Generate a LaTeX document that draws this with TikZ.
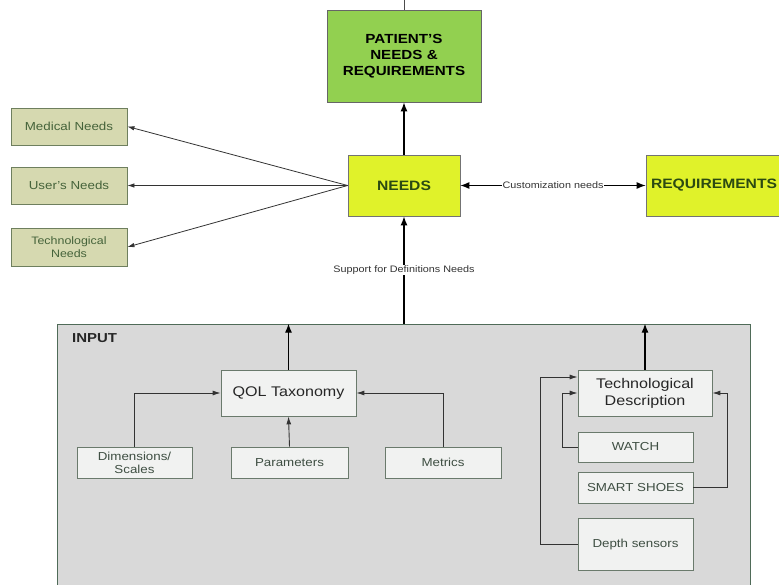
\documentclass[tikz,border=0pt]{standalone}
\usepackage{fontspec}
\setmainfont{Liberation Sans}[FakeStretch=1.15]
\usetikzlibrary{arrows.meta,calc}
\definecolor{patgreen}{HTML}{92D050}
\definecolor{needyel}{HTML}{E0F22A}
\definecolor{khaki}{HTML}{D6D9B0}
\definecolor{khakiline}{HTML}{6E7F5E}
\definecolor{inputfill}{HTML}{D9D9D9}
\definecolor{inputline}{HTML}{4F6B58}
\definecolor{smallfill}{HTML}{F1F2F1}
\definecolor{smallline}{HTML}{6A7A6C}
\definecolor{darkgreen}{HTML}{2B4A12}
\definecolor{boxtext}{HTML}{3E4E42}
\definecolor{lefttext}{HTML}{45633A}
\tikzset{
  box/.style={draw, rectangle, inner sep=0pt, align=center, line width=0.8pt},
  patbox/.style={box, fill=patgreen, draw=black!60, font=\bfseries\fontsize{13.2}{16}\selectfont},
  needbox/.style={box, fill=needyel, draw=black!55, text=darkgreen, font=\bfseries\fontsize{13.6}{15}\selectfont},
  leftbox/.style={box, fill=khaki, draw=khakiline, text=lefttext, font=\fontsize{11.6}{12.5}\selectfont},
  inbox/.style={box, fill=smallfill, draw=smallline, text=boxtext, font=\fontsize{11.6}{13}\selectfont},
  bigin/.style={box, fill=smallfill, draw=smallline, text=black!85, font=\fontsize{14}{17}\selectfont},
  mainarrow/.style={-{Latex[length=9pt,width=7pt]}, line width=1.2pt, black},
  thinarrow/.style={-{Latex[length=7pt,width=4.5pt]}, line width=0.8pt, black!80},
  inarrow/.style={-{Latex[length=8pt,width=5pt]}, line width=0.9pt, black!80},
  lbl/.style={fill=white, inner sep=1pt, text=black!80, font=\fontsize{9.4}{10}\selectfont}
}
\begin{document}
\begin{tikzpicture}[x=1pt,y=-1pt]
\useasboundingbox (0,0) rectangle (779,585);
% INPUT container
\node[box, fill=inputfill, draw=inputline, minimum width=693pt, minimum height=276pt] (input) at (403.5,462) {};
\node[anchor=west, inner sep=0pt, font=\bfseries\fontsize{13}{14}\selectfont, text=black!85] (inputlbl) at (72,338) {INPUT};
% top boxes
\node[patbox, minimum width=154pt, minimum height=92pt] (pat) at (404,56) {PATIENT'S\\NEEDS \&\\REQUIREMENTS};
\node[needbox, minimum width=112pt, minimum height=61pt] (needs) at (404,185.5) {NEEDS};
\node[needbox, minimum width=160pt, minimum height=61pt, text width=150pt, align=left] (req) at (726,185.5) {REQUIREMENTS};
% left boxes
\node[leftbox, minimum width=116pt, minimum height=37pt] (med) at (69,126.5) {Medical Needs};
\node[leftbox, minimum width=116pt, minimum height=37pt] (user) at (69,185.5) {User's Needs};
\node[leftbox, minimum width=116pt, minimum height=38pt, font=\fontsize{10.8}{13}\selectfont] (techn) at (69,247) {Technological\\Needs};
% inside input
\node[bigin, minimum width=135pt, minimum height=46pt] (qol) at (288.5,393) {QOL Taxonomy};
\node[inbox, minimum width=115pt, minimum height=31pt] (dim) at (134.5,462.5) {Dimensions/\\Scales};
\node[inbox, minimum width=117pt, minimum height=31pt] (par) at (289.5,462.5) {Parameters};
\node[inbox, minimum width=116pt, minimum height=31pt] (met) at (443,462.5) {Metrics};
\node[bigin, minimum width=134pt, minimum height=46pt] (td) at (645,393) {Technological\\Description};
\node[inbox, minimum width=115pt, minimum height=30pt] (watch) at (635.5,447) {WATCH};
\node[inbox, minimum width=115pt, minimum height=31pt] (shoes) at (635.5,487.5) {SMART SHOES};
\node[inbox, minimum width=115pt, minimum height=52pt] (depth) at (635.5,544) {Depth sensors};
% connectors
\coordinate (topc) at (404,0);
\draw[line width=0.8pt, black!70] (topc) -- (pat.north);
\draw[mainarrow] (needs.north) -- (pat.south);
\draw[thinarrow] (needs.west) -- (med.east);
\draw[thinarrow] (needs.west) -- (user.east);
\draw[thinarrow] (needs.west) -- (techn.east);
\draw[{Latex[length=9pt,width=7pt]}-{Latex[length=9pt,width=7pt]}, line width=1pt, black] (needs.east) -- (req.west) node[lbl, midway] {Customization needs};
\draw[mainarrow] (input.north -| needs.south) -- (needs.south) node[lbl, midway] {Support for Definitions Needs};
\draw[mainarrow] (qol.north) -- (qol.north |- input.north);
\draw[mainarrow] (td.north) -- (td.north |- input.north);
\draw[inarrow] (dim.north) |- (qol.west);
\draw[inarrow] (par.north) -- (qol.south);
\draw[inarrow] (met.north) |- (qol.east);
\draw[inarrow] (watch.west) -- ++(-15,0) |- (td.west);
\draw[inarrow] (depth.west) -- ++(-37,0) |- ([yshift=16pt]td.west);
\draw[inarrow] (shoes.east) -- ++(34,0) |- (td.east);
\end{tikzpicture}
\end{document}
